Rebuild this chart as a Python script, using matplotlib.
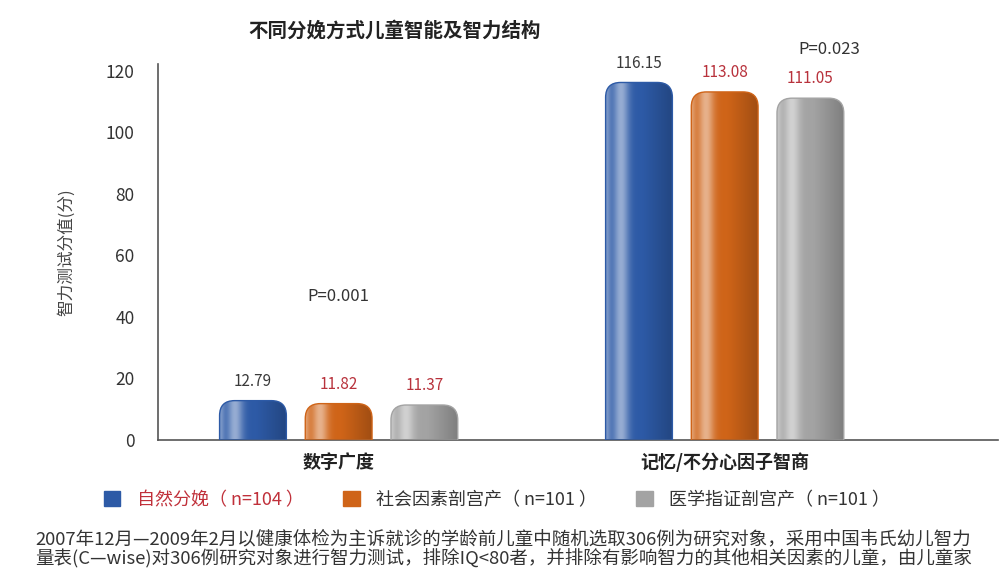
import numpy as np
import matplotlib
matplotlib.use("Agg")
import matplotlib.pyplot as plt
from matplotlib.path import Path
from matplotlib.patches import PathPatch, Patch
from matplotlib.colors import to_rgb

plt.rcParams['font.family'] = ['Noto Sans CJK SC', 'DejaVu Sans']

categories = ["数字广度", "记忆/不分心因子智商"]
series = ["自然分娩（ n=104 ）", "社会因素剖宫产（ n=101 ）", "医学指证剖宫产（ n=101 ）"]
natural = [12.79, 116.15]
social_cs = [11.82, 113.08]
medical_cs = [11.37, 111.05]
p_values = ["P=0.001", "P=0.023"]
note_lines = [
    "2007年12月—2009年2月以健康体检为主诉就诊的学龄前儿童中随机选取306例为研究对象，采用中国韦氏幼儿智力",
    "量表(C—wise)对306例研究对象进行智力测试，排除IQ<80者，并排除有影响智力的其他相关因素的儿童，由儿童家",
]

colors = ["#2d5aa6", "#cf6418", "#a3a3a3"]
label_colors = ["#3a3a3a", "#b8323c", "#b8323c"]
legend_text_colors = ["#c0303a", "#333333", "#333333"]

fig = plt.figure(figsize=(10, 5.69), dpi=100)
ax = fig.add_axes([0.158, 0.2267, 0.84, 0.66])
ax.set_xlim(-0.468, 1.708)
ax.set_ylim(0, 122)

x = np.arange(len(categories))
width = 0.173
offset = 0.222
all_vals = [natural, social_cs, medical_cs]

# pixel scale for rounded tops
fig.canvas.draw()
p0 = ax.transData.transform((0, 0))
p1 = ax.transData.transform((1, 1))
r_px = 15
rx = r_px / (p1[0] - p0[0])
ry = r_px / (p1[1] - p0[1])


def shade(base, n=64):
    b = np.array(to_rgb(base))
    t = np.linspace(0, 1, n)
    # light left edge, highlight near 25%, darker right
    light = 0.5 * np.exp(-((t - 0.22) / 0.12) ** 2) + 0.35 * np.exp(-(t / 0.06) ** 2)
    dark = 0.22 * np.clip((t - 0.55) / 0.45, 0, 1)
    cols = b[None, :] * (1 - light[:, None]) + light[:, None]
    cols = cols * (1 - dark[:, None])
    return cols[None, :, :]


for i, vals in enumerate(all_vals):
    pos = x + (i - 1) * offset
    bars = ax.bar(pos, vals, width, color=colors[i], alpha=0)
    for b, v in zip(bars, vals):
        x0 = b.get_x()
        x1 = x0 + b.get_width()
        h = b.get_height()
        verts = [(x0, 0), (x0, h - ry), (x0, h), (x0 + rx, h), (x1 - rx, h),
                 (x1, h), (x1, h - ry), (x1, 0), (x0, 0)]
        codes = [Path.MOVETO, Path.LINETO, Path.CURVE3, Path.CURVE3, Path.LINETO,
                 Path.CURVE3, Path.CURVE3, Path.LINETO, Path.CLOSEPOLY]
        patch = PathPatch(Path(verts, codes), facecolor="none",
                          edgecolor=colors[i], lw=1.0, zorder=3)
        ax.add_patch(patch)
        im = ax.imshow(shade(colors[i]), extent=(x0, x1, 0, h), aspect="auto",
                       zorder=2, interpolation="bilinear")
        im.set_clip_path(patch)
        ax.text(b.get_x() + b.get_width() / 2, h + 3.5, f"{v:.2f}", ha="center",
                va="bottom", fontsize=11, color=label_colors[i])

ax.set_xlim(-0.468, 1.708)
ax.set_ylim(0, 122)

ax.text(x[0], 46.5, p_values[0], ha="center", va="center", fontsize=12, color="#333333")
ax.text(1.27, 127, p_values[1], ha="center", va="center", fontsize=12,
        color="#333333", clip_on=False)

for s in ["top", "right"]:
    ax.spines[s].set_visible(False)
for s in ["left", "bottom"]:
    ax.spines[s].set_color("#555555")
    ax.spines[s].set_linewidth(1.2)

ax.set_yticks(range(0, 121, 20))
ax.tick_params(axis="y", length=0, pad=17, labelsize=12.5, labelcolor="#333333")
ax.set_xticks(x)
ax.set_xticklabels(categories, fontsize=13, fontweight="bold", color="#222222")
ax.tick_params(axis="x", length=0, pad=9)
ax.set_ylabel("智力测试分值(分)", fontsize=12, color="#444444", labelpad=22)

fig.text(0.395, 0.945, "不同分娩方式儿童智能及智力结构", ha="center", va="center",
         fontsize=14, fontweight="bold", color="#222222")

handles = [Patch(facecolor=c, edgecolor=c) for c in colors]
leg = fig.legend(handles, series, loc="center", bbox_to_anchor=(0.497, 0.121),
                 ncol=3, frameon=False, fontsize=13, handlelength=0.9,
                 handleheight=0.9, columnspacing=2.2, handletextpad=0.9)
for t, c in zip(leg.get_texts(), legend_text_colors):
    t.set_color(c)

fig.text(0.035, 0.053, note_lines[0], fontsize=13.3, fontweight="medium",
         color="#333333", va="center")
fig.text(0.035, 0.018, note_lines[1], fontsize=13.3, fontweight="medium",
         color="#333333", va="center")

fig.savefig("out.png", dpi=100, facecolor="white")
